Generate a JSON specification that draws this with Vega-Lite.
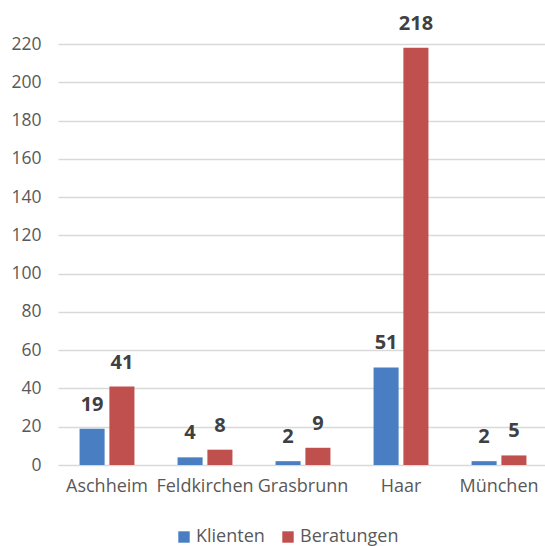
{
  "$schema": "https://vega.github.io/schema/vega-lite/v6.json",
  "autosize": "none",
  "width": 490,
  "height": 421,
  "padding": {"left": 58, "top": 44, "right": 0, "bottom": 81},
  "background": "white",
  "data": {
    "values": [
      {"Ort": "Aschheim", "Serie": "Klienten", "Wert": 19},
      {"Ort": "Aschheim", "Serie": "Beratungen", "Wert": 41},
      {"Ort": "Feldkirchen", "Serie": "Klienten", "Wert": 4},
      {"Ort": "Feldkirchen", "Serie": "Beratungen", "Wert": 8},
      {"Ort": "Grasbrunn", "Serie": "Klienten", "Wert": 2},
      {"Ort": "Grasbrunn", "Serie": "Beratungen", "Wert": 9},
      {"Ort": "Haar", "Serie": "Klienten", "Wert": 51},
      {"Ort": "Haar", "Serie": "Beratungen", "Wert": 218},
      {"Ort": "München", "Serie": "Klienten", "Wert": 2},
      {"Ort": "München", "Serie": "Beratungen", "Wert": 5}
    ]
  },
  "encoding": {
    "x": {
      "field": "Ort", "type": "nominal", "sort": null,
      "scale": {"paddingInner": 0.44, "paddingOuter": 0.22},
      "axis": {"title": null, "labelAngle": 0, "labelFont": "Open Sans", "labelFontSize": 18, "labelColor": "#595959", "domain": false, "ticks": false, "labelPadding": 12}
    },
    "xOffset": {"field": "Serie", "type": "nominal", "sort": ["Klienten", "Beratungen"], "scale": {"paddingInner": 0.16}},
    "y": {
      "field": "Wert", "type": "quantitative",
      "scale": {"domain": [0, 220], "nice": false},
      "axis": {"title": null, "values": [0,20,40,60,80,100,120,140,160,180,200,220], "labelFont": "Open Sans", "labelFontSize": 17.5, "labelColor": "#595959", "domain": false, "ticks": false, "labelPadding": 17, "gridColor": "#d9d9d9", "gridWidth": 1.5}
    }
  },
  "layer": [
    {
      "mark": {"type": "bar"},
      "encoding": {
        "color": {
          "field": "Serie", "type": "nominal",
          "scale": {"domain": ["Klienten", "Beratungen"], "range": ["#4a7ec3", "#c0504d"]},
          "legend": {"orient": "none", "legendX": 117, "legendY": 484, "direction": "horizontal", "title": null, "symbolType": "square", "symbolSize": 130, "labelFont": "Open Sans", "labelFontSize": 18, "labelColor": "#595959", "columnPadding": 14, "labelOffset": 3}
        }
      }
    },
    {
      "mark": {"type": "text", "dy": -14, "font": "Open Sans", "fontSize": 20, "fontWeight": "bold", "color": "#404040", "baseline": "bottom"},
      "encoding": {"text": {"field": "Wert", "type": "quantitative"}}
    }
  ],
  "config": {"view": {"stroke": null}}
}
